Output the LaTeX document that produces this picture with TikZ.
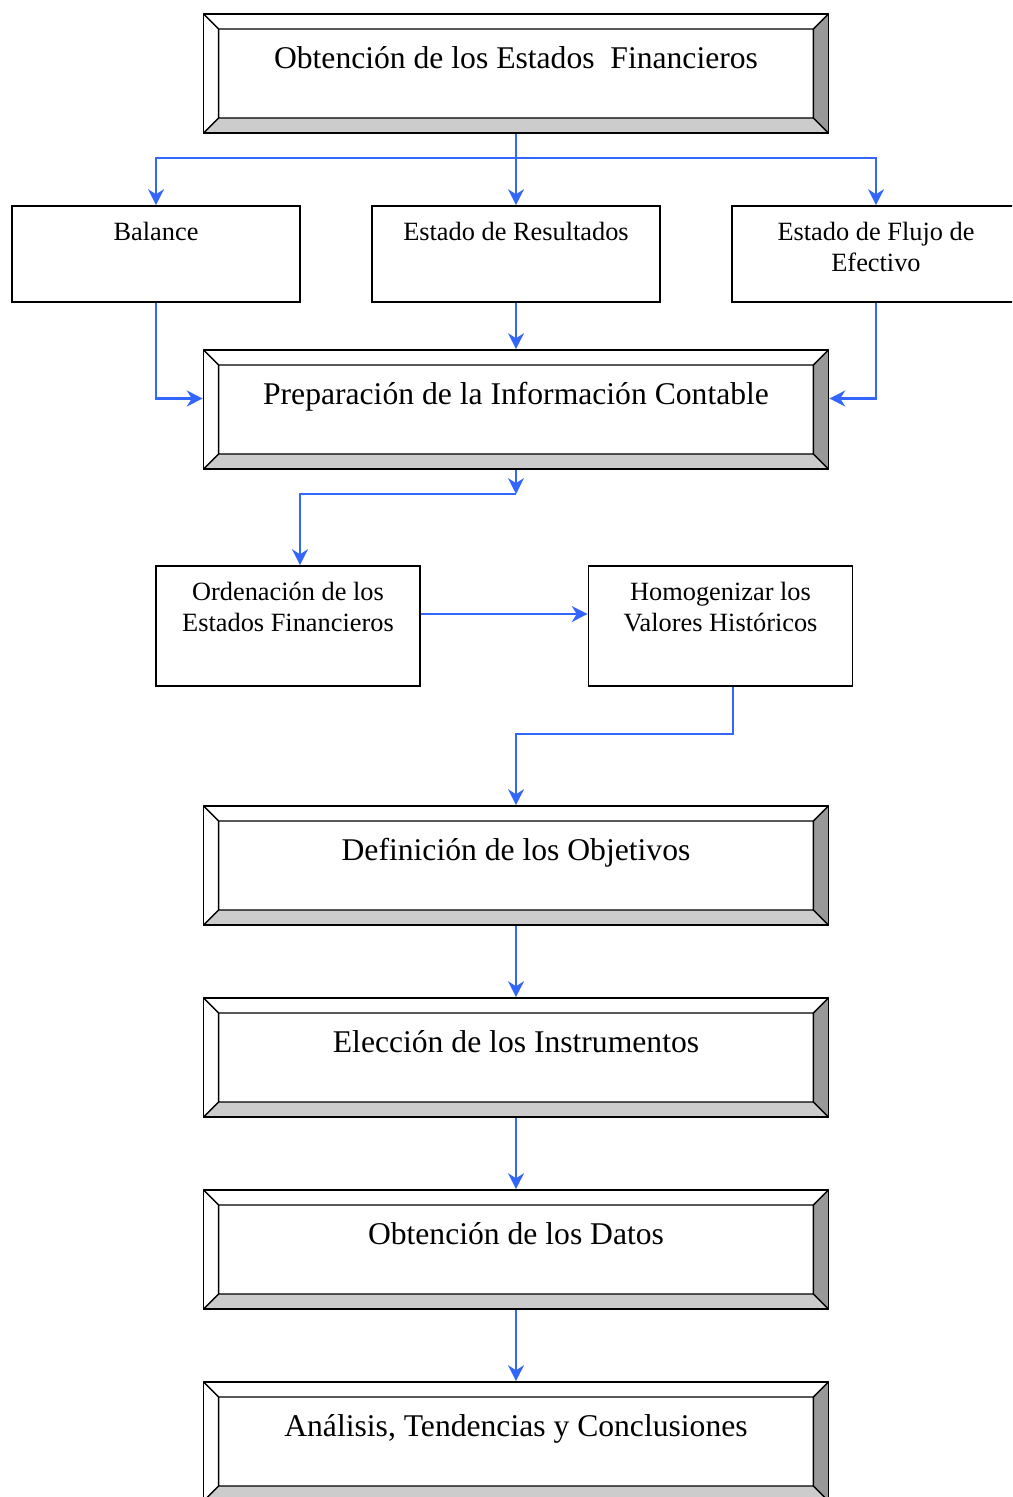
\documentclass[tikz,border=0pt]{standalone}
\usepackage{fontspec}
\setmainfont{Liberation Serif}
\usetikzlibrary{positioning,calc,arrows.meta}
\definecolor{flowblue}{HTML}{3366FF}
\definecolor{bevlight}{HTML}{CCCCCC}
\definecolor{bevdark}{HTML}{999999}
\tikzset{flow/.style={draw=flowblue,line width=1.3pt,-{Stealth[length=9pt,width=9pt,inset=2.8pt]}}}
\tikzset{smallbox/.style={draw,line width=1pt,minimum width=5.76cm,minimum height=1.92cm,inner sep=0pt,
	label={[anchor=north,yshift=-9.5pt,inner sep=0pt,align=center,font=\fontsize{15pt}{17.5pt}\selectfont]north:{#1}}}}
\tikzset{bevelbox/.style={draw,line width=1pt,minimum width=12.5cm,minimum height=2.38cm,inner sep=0pt,
	path picture={
		\coordinate (bsw) at (path picture bounding box.south west);
		\coordinate (bse) at (path picture bounding box.south east);
		\coordinate (bne) at (path picture bounding box.north east);
		\coordinate (bnw) at (path picture bounding box.north west);
		\coordinate (isw) at ([shift={(0.3cm,0.3cm)}]bsw);
		\coordinate (ise) at ([shift={(-0.3cm,0.3cm)}]bse);
		\coordinate (ine) at ([shift={(-0.3cm,-0.3cm)}]bne);
		\coordinate (inw) at ([shift={(0.3cm,-0.3cm)}]bnw);
		\fill[bevlight] (bsw) -- (bse) -- (ise) -- (isw) -- cycle;
		\fill[bevdark] (bse) -- (bne) -- (ine) -- (ise) -- cycle;
		\draw[line width=0.8pt] (isw) rectangle (ine) (bsw) -- (isw) (bse) -- (ise) (bne) -- (ine) (bnw) -- (inw);
	},
	label={[anchor=base,yshift=-31.75pt,inner sep=0pt,font=\fontsize{18pt}{21pt}\selectfont]north:{#1}}}}

\begin{document}
\begin{tikzpicture}[x=0.02cm,y=-0.02cm]
	\path[use as bounding box,clip] (0,0) rectangle (1012,1497);

	\node[bevelbox={Obtención de los Estados~ Financieros}] (obt) at (516,73.5) {};
	\node[smallbox={Balance}] (bal) at (156,254) {};
	\node[smallbox={Estado de Resultados}] (res) at (516,254) {};
	\node[smallbox={Estado de Flujo de\\Efectivo}] (flu) at (876,254) {};
	\node[bevelbox={Preparación de la Información Contable}] (prep) at (516,409.5) {};
	\node[smallbox={Ordenación de los\\Estados Financieros},minimum width=5.28cm,minimum height=2.4cm] (ord) at (288,626) {};
	\node[smallbox={Homogenizar los\\Valores Históricos},minimum width=5.28cm,minimum height=2.4cm] (hom) at (720.5,626) {};
	\node[bevelbox={Definición de los Objetivos}] (def) at (516,865.5) {};
	\node[bevelbox={Elección de los Instrumentos}] (ele) at (516,1057.5) {};
	\node[bevelbox={Obtención de los Datos}] (dat) at (516,1249.5) {};
	\node[bevelbox={Análisis, Tendencias y Conclusiones}] (ana) at (516,1441.5) {};

	\coordinate (split) at (516,158);
	\coordinate (bend1) at (516,494);
	\coordinate (bend2) at (516,734);

	% estados financieros
	\draw[flow] (obt.south) -- (res.north);
	\draw[flow] (split) -| (bal.north);
	\draw[flow] (split) -| (flu.north);
	\draw[flow] (bal.south) |- ([yshift=0.22cm]prep.west);
	\draw[flow] (res.south) -- (prep.north);
	\draw[flow] (flu.south) |- ([yshift=0.22cm]prep.east);

	% preparacion
	\draw[flow] (prep.south) -- (bend1);
	\draw[flow] (bend1) -| ([xshift=0.24cm]ord.north);
	\draw[flow] ([yshift=0.24cm]ord.east) -- ([yshift=0.24cm]hom.west);
	\draw[flow] ([xshift=0.25cm]hom.south) |- (bend2) -- (def.north);

	\draw[flow] (def.south) -- (ele.north);
	\draw[flow] (ele.south) -- (dat.north);
	\draw[flow] (dat.south) -- (ana.north);
\end{tikzpicture}
\end{document}
